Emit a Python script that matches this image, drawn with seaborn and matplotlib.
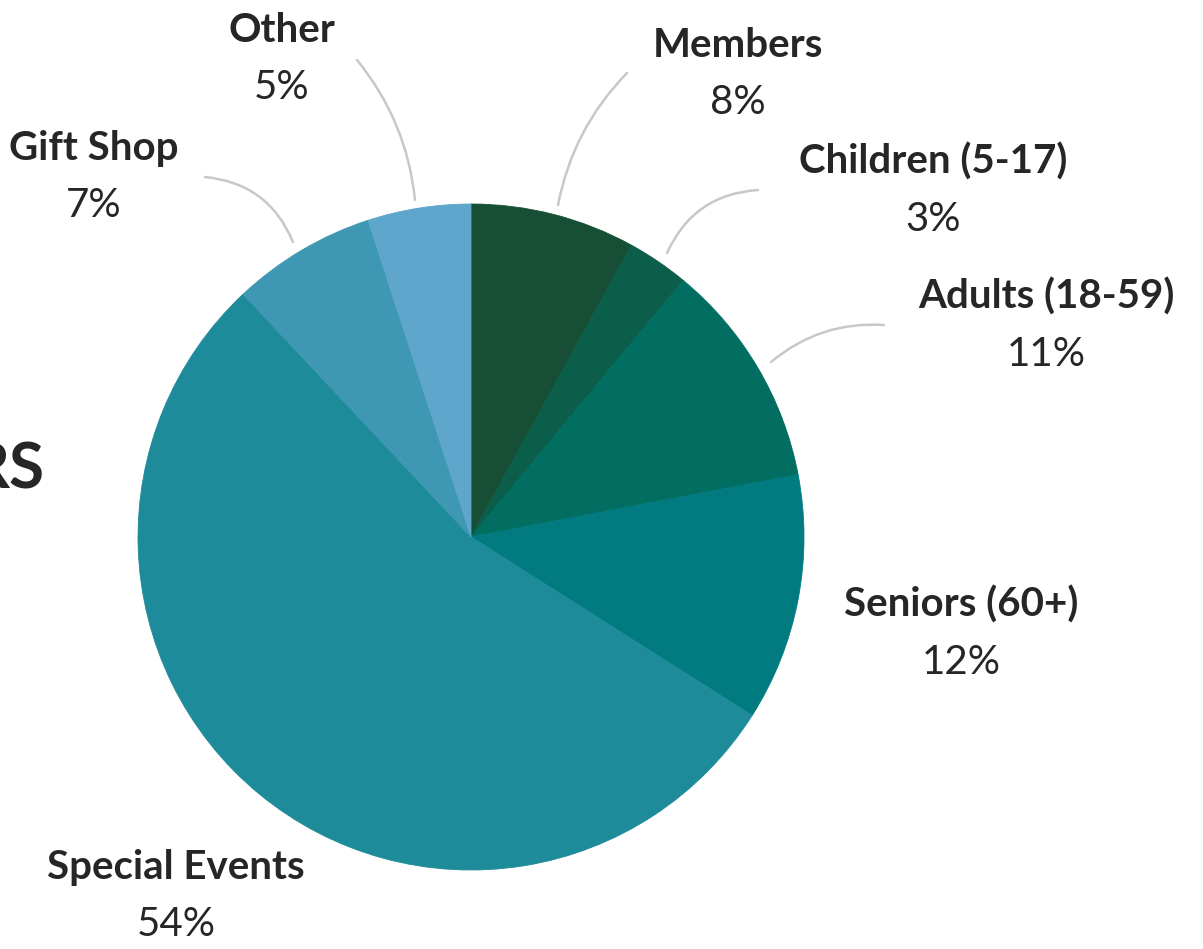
import matplotlib
matplotlib.use("Agg")
import matplotlib.pyplot as plt
import seaborn as sns

# revenue share by source
categories = ["Members", "Children (5-17)", "Adults (18-59)", "Seniors (60+)",
              "Special Events", "Gift Shop", "Other"]
shares = [8, 3, 11, 12, 54, 7, 5]
colors = ["#164f35", "#0b5e4a", "#026e62", "#017b7f", "#1e8b9a", "#3e98b3", "#5ea6cc"]

sns.set_theme(style="white")
plt.rcParams['font.family'] = ['Lato', 'DejaVu Sans']

W, H = 1203, 949
fig = plt.figure(figsize=(W / 100, H / 100), dpi=100)
ax = fig.add_axes([0, 0, 1, 1])

wedges, _ = ax.pie(shares, colors=colors, startangle=90, counterclock=False,
                   center=(471, H - 537), radius=333)
for w, c in zip(wedges, colors):
    w.set_edgecolor(c)
    w.set_linewidth(0.6)
ax.set_xlim(0, W)
ax.set_ylim(0, H)
ax.set_aspect("equal")
ax.axis("off")

txt = "#262626"
# label placement (pixel coords from top-left)
label_pos = {
    "Members": (738, 45),
    "Children (5-17)": (933, 162),
    "Adults (18-59)": (1046, 297),
    "Seniors (60+)": (961, 605),
    "Special Events": (176, 868),
    "Gift Shop": (94, 148),
    "Other": (282, 30),
}
for cat, val in zip(categories, shares):
    x, y = label_pos[cat]
    ax.text(x, H - y, cat, ha="center", va="center", fontsize=29,
            fontweight="bold", color=txt)
    ax.text(x, H - y - 57, f"{val}%", ha="center", va="center", fontsize=29,
            fontweight="normal", color=txt)

# curved leader lines: (label end, pie end, curvature)
leaders = [
    ((627, 73), (558, 205), 0.15),
    ((758, 190), (667, 253), 0.3),
    ((884, 325), (771, 362), 0.2),
    ((205, 177), (293, 242), -0.3),
    ((357, 60), (415, 200), -0.15),
]
for (x0, y0), (x1, y1), rad in leaders:
    ax.annotate("", xy=(x1, H - y1), xytext=(x0, H - y0),
                arrowprops=dict(arrowstyle="-", color="#c8c8c8", lw=1.8,
                                shrinkA=0, shrinkB=0,
                                connectionstyle=f"arc3,rad={rad}"))

# title on the left edge, cut off as in the source layout
ax.text(45, H - 470, "RS", ha="right", va="center", fontsize=46,
        fontweight="bold", color=txt)

fig.savefig("out.png", dpi=100, facecolor="white")
